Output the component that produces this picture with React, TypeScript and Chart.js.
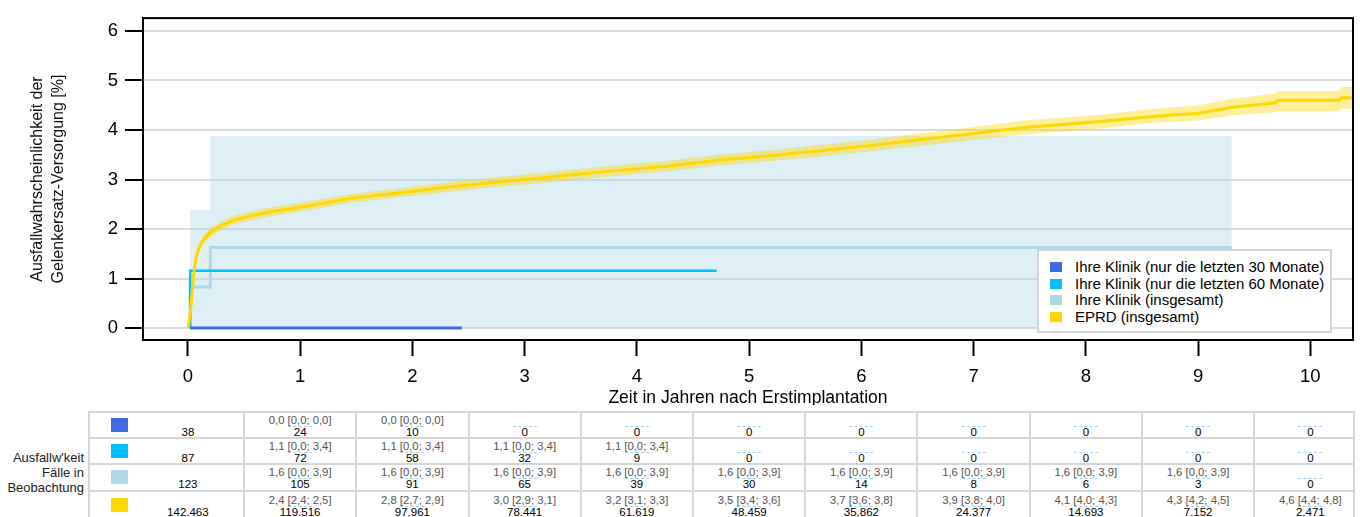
import React, { useEffect, useRef, useState } from 'react';
import { Chart, registerables } from 'chart.js';

Chart.register(...registerables);

const FONT = '"Liberation Sans", Arial, Helvetica, sans-serif';

// ---- axis ticks ----
const xTickValues = [0, 1, 2, 3, 4, 5, 6, 7, 8, 9, 10];
const yTickValues = [0, 1, 2, 3, 4, 5, 6];

// ---- legend ----
const seriesLabels = [
  'Ihre Klinik (nur die letzten 30 Monate)',
  'Ihre Klinik (nur die letzten 60 Monate)',
  'Ihre Klinik (insgesamt)',
  'EPRD (insgesamt)',
];
const seriesColors = ['#4169E1', '#00BFFF', '#ADD8E6', '#FFD700'];

// ---- Ihre Klinik curves ----
const k30X = [0.02, 2.44];
const k30Y = [0, 0];
const k60X = [0.02, 0.02, 4.71];
const k60Y = [0, 1.16, 1.16];
const allX = [0.02, 0.02, 0.2, 0.2, 9.3];
const allY = [0, 0.83, 0.83, 1.63, 1.63];
const allBandX = [0.02, 0.2, 0.2, 9.3];
const allBandHi = [2.39, 2.39, 3.88, 3.88];

// ---- EPRD curve with confidence band ----
const eprdX = [0, 0.01, 0.02, 0.036, 0.05, 0.07, 0.095, 0.14, 0.2, 0.29, 0.41, 0.55, 0.76, 1.0, 1.45, 1.91, 2.36, 2.91, 3.36, 3.81, 4.27, 4.72, 5.18, 5.63, 6.09, 6.54, 7.0, 7.45, 7.91, 8.13, 8.57, 9.0, 9.31, 9.69, 9.71, 10.26, 10.28, 10.38];
const eprdY = [0, 0.12, 0.28, 0.68, 1.07, 1.4, 1.6, 1.79, 1.93, 2.06, 2.18, 2.26, 2.36, 2.44, 2.62, 2.74, 2.86, 2.98, 3.08, 3.18, 3.27, 3.39, 3.48, 3.58, 3.69, 3.81, 3.93, 4.05, 4.13, 4.17, 4.27, 4.34, 4.46, 4.55, 4.6, 4.6, 4.65, 4.65];
const eprdLo = [0, 0.09, 0.23, 0.6, 0.98, 1.31, 1.51, 1.7, 1.84, 1.97, 2.09, 2.17, 2.27, 2.35, 2.53, 2.65, 2.76, 2.88, 2.97, 3.07, 3.16, 3.28, 3.37, 3.46, 3.57, 3.68, 3.8, 3.91, 3.99, 4.03, 4.14, 4.19, 4.3, 4.36, 4.38, 4.38, 4.43, 4.43];
const eprdHi = [0, 0.15, 0.33, 0.76, 1.16, 1.49, 1.69, 1.88, 2.02, 2.15, 2.27, 2.35, 2.45, 2.53, 2.71, 2.83, 2.96, 3.08, 3.19, 3.29, 3.38, 3.5, 3.59, 3.7, 3.81, 3.94, 4.06, 4.19, 4.27, 4.31, 4.42, 4.5, 4.63, 4.74, 4.79, 4.79, 4.87, 4.87];

// ---- table below the chart ----
const riskK30 = ['', '0,0 [0,0; 0,0]', '0,0 [0,0; 0,0]', '', '', '', '', '', '', '', ''];
const casesK30 = ['38', '24', '10', '0', '0', '0', '0', '0', '0', '0', '0'];
const riskK60 = ['', '1,1 [0,0; 3,4]', '1,1 [0,0; 3,4]', '1,1 [0,0; 3,4]', '1,1 [0,0; 3,4]', '', '', '', '', '', ''];
const casesK60 = ['87', '72', '58', '32', '9', '0', '0', '0', '0', '0', '0'];
const riskAll = ['', '1,6 [0,0; 3,9]', '1,6 [0,0; 3,9]', '1,6 [0,0; 3,9]', '1,6 [0,0; 3,9]', '1,6 [0,0; 3,9]', '1,6 [0,0; 3,9]', '1,6 [0,0; 3,9]', '1,6 [0,0; 3,9]', '1,6 [0,0; 3,9]', ''];
const casesAll = ['123', '105', '91', '65', '39', '30', '14', '8', '6', '3', '0'];
const riskEPRD = ['', '2,4 [2,4; 2,5]', '2,8 [2,7; 2,9]', '3,0 [2,9; 3,1]', '3,2 [3,1; 3,3]', '3,5 [3,4; 3,6]', '3,7 [3,6; 3,8]', '3,9 [3,8; 4,0]', '4,1 [4,0; 4,3]', '4,3 [4,2; 4,5]', '4,6 [4,4; 4,8]'];
const casesEPRD = ['142.463', '119.516', '97.961', '78.441', '61.619', '48.459', '35.862', '24.377', '14.693', '7.152', '2.471'];

const rowLabelTop = "Ausfallw'keit";
const rowLabelMid = 'Fälle in';
const rowLabelBottom = 'Beobachtung';
const xTitle = 'Zeit in Jahren nach Erstimplantation';
const yTitle = ['Ausfallwahrscheinlichkeit der', 'Gelenkersatz-Versorgung [%]'];

const pts = (xs: number[], ys: number[]) => xs.map((x, i) => ({ x, y: ys[i] }));

const framePlugin = {
  id: 'frame',
  afterDraw(chart: any) {
    const { ctx, chartArea } = chart;
    const { left, top, right, bottom } = chartArea;
    ctx.save();
    ctx.strokeStyle = '#000';
    ctx.lineWidth = 2;
    ctx.strokeRect(left, top, right - left, bottom - top);
    ctx.restore();
  },
};

export default function App() {
  const canvasRef = useRef<HTMLCanvasElement | null>(null);
  const [ticks, setTicks] = useState<number[]>(xTickValues.map((v) => 187.7 + 112.26 * v));

  useEffect(() => {
    const canvas = canvasRef.current;
    if (!canvas) return;
    const chart = new Chart(canvas, {
      type: 'line',
      data: {
        datasets: [
          {
            label: seriesLabels[3],
            data: pts(eprdX, eprdY),
            borderColor: '#FFD700',
            borderWidth: 3,
            pointRadius: 0,
            fill: false,
            tension: 0,
          },
          {
            label: 'EPRD KI oben',
            data: pts(eprdX, eprdHi),
            borderColor: 'rgba(0,0,0,0)',
            borderWidth: 0,
            backgroundColor: 'rgba(255,215,0,0.4)',
            pointRadius: 0,
            fill: '+1',
          },
          {
            label: 'EPRD KI unten',
            data: pts(eprdX, eprdLo),
            borderColor: 'rgba(0,0,0,0)',
            borderWidth: 0,
            pointRadius: 0,
            fill: false,
          },
          {
            label: seriesLabels[0],
            data: pts(k30X, k30Y),
            borderColor: seriesColors[0],
            borderWidth: 3,
            pointRadius: 0,
            fill: false,
          },
          {
            label: seriesLabels[1],
            data: pts(k60X, k60Y),
            borderColor: seriesColors[1],
            borderWidth: 2.5,
            pointRadius: 0,
            fill: false,
          },
          {
            label: seriesLabels[2],
            data: pts(allX, allY),
            borderColor: seriesColors[2],
            borderWidth: 3,
            pointRadius: 0,
            fill: false,
          },
          {
            label: 'Ihre Klinik KI',
            data: pts(allBandX, allBandHi),
            borderColor: 'rgba(0,0,0,0)',
            borderWidth: 0,
            backgroundColor: 'rgba(173,216,230,0.4)',
            pointRadius: 0,
            fill: 'origin',
          },
        ],
      },
      options: {
        responsive: false,
        maintainAspectRatio: false,
        devicePixelRatio: 1,
        animation: false,
        layout: { padding: { left: 0, right: 7, top: 11, bottom: 0 } },
        plugins: {
          legend: { display: false },
          tooltip: { enabled: false },
        },
        scales: {
          x: {
            type: 'linear',
            min: -0.4,
            max: 10.38,
            afterBuildTicks: (scale: any) => {
              scale.ticks = xTickValues.map((v) => ({ value: v }));
            },
            afterFit: (scale: any) => {
              scale.height = 65;
            },
            ticks: {
              font: { family: FONT, size: 18.5 },
              color: '#000',
              padding: 10,
              maxRotation: 0,
              autoSkip: false,
            },
            grid: {
              drawOnChartArea: false,
              drawTicks: true,
              tickLength: 16,
              tickColor: '#000',
              tickWidth: 2,
            },
            border: { display: true, color: '#000', width: 2 },
            title: {
              display: true,
              text: xTitle,
              color: '#000',
              font: { family: FONT, size: 17.5, lineHeight: 0.8 },
              padding: { top: 0, bottom: 0 },
            },
          },
          y: {
            type: 'linear',
            min: -0.24,
            max: 6.26,
            afterBuildTicks: (scale: any) => {
              scale.ticks = yTickValues.map((v) => ({ value: v }));
            },
            afterFit: (scale: any) => {
              scale.width = 143;
            },
            ticks: {
              font: { family: FONT, size: 18.5 },
              color: '#000',
              padding: 7,
            },
            grid: {
              color: '#dadada',
              lineWidth: 2,
              drawTicks: true,
              tickLength: 18,
              tickColor: '#000',
              tickWidth: 2,
            },
            border: { display: true, color: '#000', width: 2 },
            title: {
              display: true,
              text: yTitle,
              color: '#111',
              font: { family: FONT, size: 16, lineHeight: 1.3 },
              padding: { top: 27, bottom: 0 },
            },
          },
        },
      },
      plugins: [framePlugin],
    } as any);
    setTicks(xTickValues.map((v) => chart.scales.x.getPixelForValue(v)));
    return () => {
      chart.destroy();
    };
  }, []);

  const rowTops = [412, 438, 464, 491];
  const rows = [
    { color: seriesColors[0], risks: riskK30, cases: casesK30 },
    { color: seriesColors[1], risks: riskK60, cases: casesK60 },
    { color: seriesColors[2], risks: riskAll, cases: casesAll },
    { color: seriesColors[3], risks: riskEPRD, cases: casesEPRD },
  ];
  const step = ticks[2] - ticks[1];
  const vLines = [89, ticks[1] - step / 2];
  for (let i = 1; i < ticks.length - 1; i++) vLines.push((ticks[i] + ticks[i + 1]) / 2);
  vLines.push(1354);
  const lineColor = '#d6d6d6';

  const legendTops = [267, 283.5, 300, 316.5];

  return (
    <div
      style={{
        position: 'absolute',
        left: 0,
        top: 0,
        width: 1360,
        height: 517,
        overflow: 'hidden',
        background: '#fff',
        fontFamily: FONT,
      }}
    >
      <canvas
        ref={canvasRef}
        width={1360}
        height={405}
        style={{ position: 'absolute', left: 0, top: 0, width: 1360, height: 405 }}
      />

      {/* legend */}
      <div
        style={{
          position: 'absolute',
          left: 1037,
          top: 249,
          width: 295,
          height: 84,
          boxSizing: 'border-box',
          border: '2px solid #d4d4d4',
          background: '#fff',
        }}
      />
      {seriesLabels.map((lab, i) => (
        <React.Fragment key={lab}>
          <div
            style={{
              position: 'absolute',
              left: 1050,
              top: legendTops[i] - 5,
              width: 12,
              height: 10,
              background: seriesColors[i],
            }}
          />
          <div
            style={{
              position: 'absolute',
              left: 1075,
              top: legendTops[i] - 9,
              height: 18,
              lineHeight: '18px',
              fontSize: 15,
              color: '#000',
              whiteSpace: 'nowrap',
            }}
          >
            {lab}
          </div>
        </React.Fragment>
      ))}

      {/* table grid */}
      {rowTops.map((t) => (
        <div
          key={'h' + t}
          style={{ position: 'absolute', left: 89, top: t - 1, width: 1355 - 89, height: 2, background: lineColor }}
        />
      ))}
      {vLines.map((x, i) => (
        <div
          key={'v' + i}
          style={{ position: 'absolute', left: Math.round(x) - 1, top: 411, width: 2, height: 110, background: lineColor }}
        />
      ))}

      {/* row labels */}
      <div style={{ position: 'absolute', left: 0, width: 84, top: 450, textAlign: 'right', fontSize: 13, lineHeight: '15px', color: '#222' }}>
        {rowLabelTop}
      </div>
      <div style={{ position: 'absolute', left: 0, width: 84, top: 465, textAlign: 'right', fontSize: 13, lineHeight: '15px', color: '#222' }}>
        {rowLabelMid}
      </div>
      <div style={{ position: 'absolute', left: 0, width: 84, top: 480, textAlign: 'right', fontSize: 13, lineHeight: '15px', color: '#222' }}>
        {rowLabelBottom}
      </div>

      {/* table cells */}
      {rows.map((row, r) => {
        const top = rowTops[r] + (r === 3 ? 1 : 0);
        return (
          <React.Fragment key={'r' + r}>
            <div
              style={{ position: 'absolute', left: 111, top: top + 6, width: 17, height: 14, background: row.color }}
            />
            {ticks.map((px, i) => (
              <React.Fragment key={'c' + r + '-' + i}>
                {row.risks[i] ? (
                  <div
                    style={{
                      position: 'absolute',
                      left: px - 60,
                      width: 120,
                      top: top + 1,
                      textAlign: 'center',
                      fontSize: 11.3,
                      lineHeight: '14px',
                      color: '#555',
                      whiteSpace: 'nowrap',
                    }}
                  >
                    {row.risks[i]}
                  </div>
                ) : null}
                {i > 0 ? (
                  <div
                    style={{
                      position: 'absolute',
                      left: px - 12,
                      width: 24,
                      top: top + 14,
                      height: 0,
                      borderTop: '1px dashed #a6d3ec',
                    }}
                  />
                ) : null}
                <div
                  style={{
                    position: 'absolute',
                    left: px - 60,
                    width: 120,
                    top: top + 14,
                    textAlign: 'center',
                    fontSize: 11.5,
                    lineHeight: '13px',
                    color: '#000',
                    whiteSpace: 'nowrap',
                  }}
                >
                  {row.cases[i]}
                </div>
              </React.Fragment>
            ))}
          </React.Fragment>
        );
      })}
    </div>
  );
}
